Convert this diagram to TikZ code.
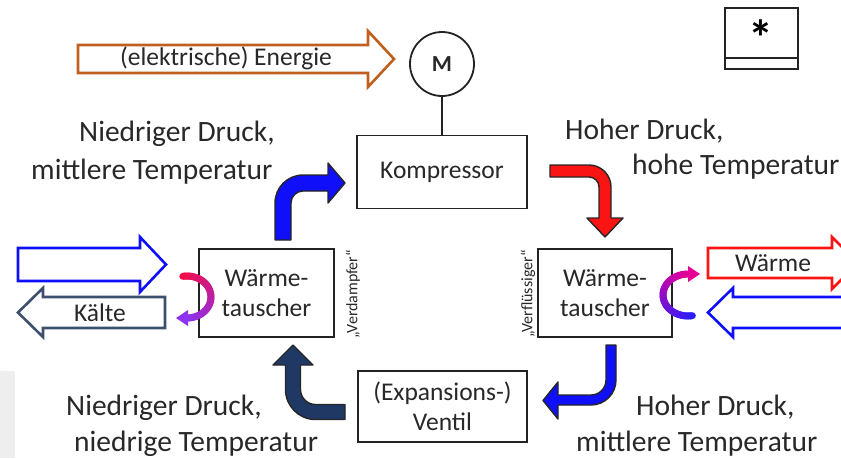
\documentclass[tikz,border=0pt]{standalone}
\usepackage{fontspec}
\setmainfont{Carlito}
\definecolor{txt}{RGB}{40,40,40}
\definecolor{boxc}{RGB}{35,35,35}
\definecolor{brown}{RGB}{192,96,30}
\definecolor{pblue}{RGB}{15,15,250}
\definecolor{slate}{RGB}{60,80,110}
\definecolor{pred}{RGB}{250,20,20}
\definecolor{navy}{RGB}{31,56,100}
\definecolor{gA}{RGB}{245,10,70}
\definecolor{gB}{RGB}{140,50,240}
\definecolor{gC}{RGB}{230,0,150}
\definecolor{gD}{RGB}{40,30,255}
\definecolor{lgray}{RGB}{238,238,238}
\begin{document}
\begin{tikzpicture}[x=1pt,y=-1pt,
  box/.style={draw=boxc, line width=1.8pt, fill=white, text=txt, inner sep=0pt,
    font=\fontsize{25.5}{30}\selectfont, align=center},
  big/.style={text=txt, font=\fontsize{29.5}{36}\selectfont, anchor=base west, inner sep=0pt},
  mid/.style={text=txt, font=\fontsize{25.5}{30}\selectfont, inner sep=0pt},
  vlab/.style={text=txt, font=\fontsize{16}{18}\selectfont, rotate=90, inner sep=0pt},
  hollow/.style={line width=2.6pt, fill=white, line join=miter},
  solid/.style={draw=black!85, line width=1.4pt, line join=round}]
\useasboundingbox (0,0) rectangle (841,458);
\clip (0,0) rectangle (841,458);
\fill[lgray] (0,371) rectangle (15,458);

% boxes
\node[box, minimum width=170pt, minimum height=73pt] (komp) at (442,172) {Kompressor};
\node[box, minimum width=135pt, minimum height=88pt] (wtl) at (266.5,293) {Wärme-\\tauscher};
\node[box, minimum width=134pt, minimum height=88pt] (wtr) at (605,293) {Wärme-\\tauscher};
\node[box, minimum width=169pt, minimum height=71pt] (vent) at (442.5,406.5) {(Expansions-)\\Ventil};
\node[draw=boxc, line width=1.8pt, circle, minimum size=64pt, inner sep=0pt,
  font=\fontsize{23}{26}\selectfont\bfseries, text=txt] (mot) at (442,64) {M};
\draw[boxc, line width=1.8pt] (mot.south) -- (komp.north);
\node[draw=boxc, line width=1.8pt, minimum width=73pt, minimum height=61pt, inner sep=0pt] (ast) at (761.5,38.5) {};
\draw[boxc, line width=1.8pt] (ast.south west) ++(0,-12) -- ++(73,0);
\node[text=black, font=\fontsize{50}{52}\selectfont\bfseries, inner sep=0pt] (astx) at (761,38) {*};

% vertical labels
\node[vlab] (verd) at (353,294) {„Verdampfer“};
\node[vlab] (verf) at (528,294) {„Verflüssiger“};

% energy arrow
\draw[hollow, draw=brown] (78,45) -- (368,45) -- (368,31) -- (394,59) -- (368,87) -- (368,73) -- (78,73) -- cycle;
\node[mid] (en) at (226,58) {(elektrische) Energie};

% left hollow arrows
\draw[hollow, draw=pblue] (18,248) -- (140,248) -- (140,237) -- (166,264.5) -- (140,292) -- (140,281) -- (18,281) -- cycle;
\draw[hollow, draw=slate] (165,297) -- (43,297) -- (43,288) -- (18,312.5) -- (43,337) -- (43,328) -- (165,328) -- cycle;
\node[mid] (kalte) at (100,313) {Kälte};

% right hollow arrows
\draw[hollow, draw=pred] (708,248) -- (832,248) -- (832,237) -- (858,263) -- (832,289) -- (832,278) -- (708,278) -- cycle;
\node[mid] (warme) at (773,263) {Wärme};
\draw[hollow, draw=pblue] (880,297) -- (733,297) -- (733,288) -- (708,312.5) -- (733,337) -- (733,328) -- (880,328) -- cycle;

% solid curved arrows
\filldraw[solid, fill=pblue] (275,240) -- (275,203) .. controls (275,187.5) and (287.5,175) .. (303,175) -- (328,175) -- (328,163) -- (345,183) -- (328,203) -- (328,191) -- (303,191) .. controls (296.4,191) and (291,196.4) .. (291,203) -- (291,240) -- cycle;
\filldraw[solid, fill=pred] (550,165) -- (589,165) .. controls (601.2,165) and (611,174.8) .. (611,187) -- (611,218) -- (623,218) -- (605,237) -- (587,218) -- (599,218) -- (599,187) .. controls (599,181.5) and (594.5,177) .. (589,177) -- (550,177) -- cycle;
\filldraw[solid, fill=navy] (345,404.5) -- (315.5,404.5) .. controls (307.2,404.5) and (300.5,397.8) .. (300.5,389.5) -- (300.5,365) -- (313,365) -- (293,345) -- (273,365) -- (285.5,365) -- (285.5,389.5) .. controls (285.5,406.1) and (298.9,419.5) .. (315.5,419.5) -- (345,419.5) -- cycle;
\filldraw[solid, fill=pblue] (606,345) -- (606,380) .. controls (606,388.3) and (599.3,395) .. (591,395) -- (558,395) -- (558,382) -- (543,400.5) -- (558,419) -- (558,405) -- (591,405) .. controls (604.8,405) and (616,393.8) .. (616,380) -- (616,345) -- cycle;

% gradient arcs
\foreach \t [evaluate=\t as \p using {int((100-\t)/190*100)}] in {100,95,...,-85} {
  \draw[line width=7pt, line cap=round, color=gB!\p!gA] ({187+24*cos(\t)},{297-21*sin(\t)}) -- ({187+24*cos(\t-5)},{297-21*sin(\t-5)});
}
\fill[gB] (188,310) -- (176,318) -- (188,326) -- cycle;
\foreach \t [evaluate=\t as \p using {int((280-\t)/190*100)}] in {280,275,...,95} {
  \draw[line width=7pt, line cap=round, color=gC!\p!gD] ({688+25*cos(\t)},{295-21*sin(\t)}) -- ({688+25*cos(\t-5)},{295-21*sin(\t-5)});
}
\fill[gC] (688,266) -- (700,274) -- (688,282) -- cycle;

% state labels
\node[big] (nl1) at (79,141) {Niedriger Druck,};
\node[big] (nl2) at (31,179) {mittlere Temperatur};
\node[big] (hr1) at (565,139) {Hoher Druck,};
\node[big] (hr2) at (632,174) {hohe Temperatur};
\node[big] (bl1) at (66,415) {Niedriger Druck,};
\node[big] (bl2) at (74,451) {niedrige Temperatur};
\node[big] (br1) at (636,415) {Hoher Druck,};
\node[big] (br2) at (576,451) {mittlere Temperatur};
\end{tikzpicture}
\end{document}
